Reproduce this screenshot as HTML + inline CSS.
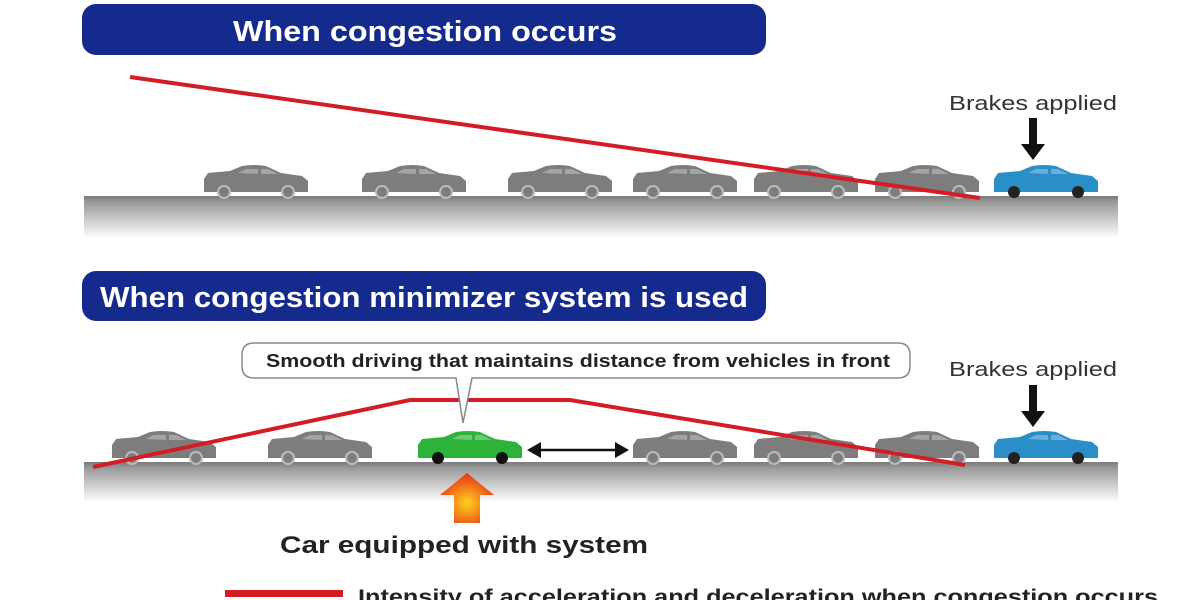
<!DOCTYPE html>
<html><head><meta charset="utf-8"><style>
html,body{margin:0;padding:0;background:#fff;width:1200px;height:600px;overflow:hidden}
svg{display:block}
text{font-family:"Liberation Sans",Arial,sans-serif;font-weight:bold}
</style></head><body>
<svg width="1200" height="600" viewBox="0 0 1200 600" xmlns="http://www.w3.org/2000/svg">
<defs>
<linearGradient id="road" x1="0" y1="0" x2="0" y2="1">
<stop offset="0" stop-color="#7a7a7a"/><stop offset="0.15" stop-color="#9a9a9a"/><stop offset="1" stop-color="#ffffff"/>
</linearGradient>
<radialGradient id="org" cx="0.5" cy="0.6" r="0.6">
<stop offset="0" stop-color="#ffd21a"/><stop offset="1" stop-color="#e8301a"/>
</radialGradient>
<g id="body">
<path d="M2,11 L6,5 L28,3 L40,-2 Q52,-4 64,-2 L79,5 L100,8 L106,13 L106,24 L2,24 Z"/>
</g>
<g id="win"><path d="M36,5 L44,1 L56,1 L56,6 Z M59,1 L66,1 L76,6 L59,6 Z" fill="#fff" opacity="0.3"/></g>
</defs>

<rect x="82" y="4" width="684" height="51" rx="14" fill="#142a8c"/>
<text x="233" y="41" font-size="29" fill="#fff" textLength="384" lengthAdjust="spacingAndGlyphs">When congestion occurs</text>
<rect x="82" y="271" width="684" height="50" rx="14" fill="#142a8c"/>
<text x="100" y="307" font-size="29" fill="#fff" textLength="648" lengthAdjust="spacingAndGlyphs">When congestion minimizer system is used</text>

<rect x="84" y="196" width="1034" height="42" fill="url(#road)"/>
<rect x="84" y="462" width="1034" height="40" fill="url(#road)"/>

<g fill="#7d7d7d">
<g transform="translate(202,168)"><use href="#body"/><use href="#win"/><circle cx="22" cy="24" r="7" fill="#bbb"/><circle cx="22" cy="24" r="5"/><circle cx="86" cy="24" r="7" fill="#bbb"/><circle cx="86" cy="24" r="5"/></g>
<g transform="translate(360,168)"><use href="#body"/><use href="#win"/><circle cx="22" cy="24" r="7" fill="#bbb"/><circle cx="22" cy="24" r="5"/><circle cx="86" cy="24" r="7" fill="#bbb"/><circle cx="86" cy="24" r="5"/></g>
<g transform="translate(506,168)"><use href="#body"/><use href="#win"/><circle cx="22" cy="24" r="7" fill="#bbb"/><circle cx="22" cy="24" r="5"/><circle cx="86" cy="24" r="7" fill="#bbb"/><circle cx="86" cy="24" r="5"/></g>
<g transform="translate(631,168)"><use href="#body"/><use href="#win"/><circle cx="22" cy="24" r="7" fill="#bbb"/><circle cx="22" cy="24" r="5"/><circle cx="86" cy="24" r="7" fill="#bbb"/><circle cx="86" cy="24" r="5"/></g>
<g transform="translate(752,168)"><use href="#body"/><use href="#win"/><circle cx="22" cy="24" r="7" fill="#bbb"/><circle cx="22" cy="24" r="5"/><circle cx="86" cy="24" r="7" fill="#bbb"/><circle cx="86" cy="24" r="5"/></g>
<g transform="translate(873,168)"><use href="#body"/><use href="#win"/><circle cx="22" cy="24" r="7" fill="#bbb"/><circle cx="22" cy="24" r="5"/><circle cx="86" cy="24" r="7" fill="#bbb"/><circle cx="86" cy="24" r="5"/></g>
</g>
<g transform="translate(992,168)" fill="#2a8fc8"><use href="#body"/><use href="#win"/><circle cx="22" cy="24" r="6" fill="#222"/><circle cx="86" cy="24" r="6" fill="#222"/></g>

<g fill="#7d7d7d">
<g transform="translate(110,434)"><use href="#body"/><use href="#win"/><circle cx="22" cy="24" r="7" fill="#bbb"/><circle cx="22" cy="24" r="5"/><circle cx="86" cy="24" r="7" fill="#bbb"/><circle cx="86" cy="24" r="5"/></g>
<g transform="translate(266,434)"><use href="#body"/><use href="#win"/><circle cx="22" cy="24" r="7" fill="#bbb"/><circle cx="22" cy="24" r="5"/><circle cx="86" cy="24" r="7" fill="#bbb"/><circle cx="86" cy="24" r="5"/></g>
<g transform="translate(631,434)"><use href="#body"/><use href="#win"/><circle cx="22" cy="24" r="7" fill="#bbb"/><circle cx="22" cy="24" r="5"/><circle cx="86" cy="24" r="7" fill="#bbb"/><circle cx="86" cy="24" r="5"/></g>
<g transform="translate(752,434)"><use href="#body"/><use href="#win"/><circle cx="22" cy="24" r="7" fill="#bbb"/><circle cx="22" cy="24" r="5"/><circle cx="86" cy="24" r="7" fill="#bbb"/><circle cx="86" cy="24" r="5"/></g>
<g transform="translate(873,434)"><use href="#body"/><use href="#win"/><circle cx="22" cy="24" r="7" fill="#bbb"/><circle cx="22" cy="24" r="5"/><circle cx="86" cy="24" r="7" fill="#bbb"/><circle cx="86" cy="24" r="5"/></g>
</g>
<g transform="translate(416,434)" fill="#2db23a"><use href="#body"/><use href="#win"/><circle cx="22" cy="24" r="6" fill="#111"/><circle cx="86" cy="24" r="6" fill="#111"/></g>
<g transform="translate(992,434)" fill="#2a8fc8"><use href="#body"/><use href="#win"/><circle cx="22" cy="24" r="6" fill="#222"/><circle cx="86" cy="24" r="6" fill="#222"/></g>

<line x1="130" y1="77" x2="980" y2="198" stroke="#d41c24" stroke-width="4"/>
<polyline points="93,467 410,400 570,400 965,465" fill="none" stroke="#d41c24" stroke-width="4"/>

<text x="949" y="110" font-size="20" fill="#333" style="font-weight:normal" textLength="168" lengthAdjust="spacingAndGlyphs">Brakes applied</text>
<rect x="1029" y="118" width="8" height="28" fill="#111"/><polygon points="1021,144 1045,144 1033,160" fill="#111"/>
<text x="949" y="376" font-size="20" fill="#333" style="font-weight:normal" textLength="168" lengthAdjust="spacingAndGlyphs">Brakes applied</text>
<rect x="1029" y="385" width="8" height="28" fill="#111"/><polygon points="1021,411 1045,411 1033,427" fill="#111"/>

<path d="M254,343 H898 Q910,343 910,355 V366 Q910,378 898,378 H472 L463,423 L456,378 H254 Q242,378 242,366 V355 Q242,343 254,343 Z" fill="#fff" stroke="#888" stroke-width="1.5"/>
<text x="266" y="367" font-size="18" fill="#222" textLength="624" lengthAdjust="spacingAndGlyphs">Smooth driving that maintains distance from vehicles in front</text>

<line x1="535" y1="450" x2="620" y2="450" stroke="#111" stroke-width="2.5"/>
<polygon points="527,450 541,442 541,458" fill="#111"/><polygon points="629,450 615,442 615,458" fill="#111"/>

<polygon points="467,473 494,495 480,495 480,523 454,523 454,495 440,495" fill="url(#org)"/>
<text x="280" y="553" font-size="24" fill="#222" textLength="368" lengthAdjust="spacingAndGlyphs">Car equipped with system</text>

<rect x="225" y="590" width="118" height="7" fill="#d41c24"/>
<text x="358" y="604" font-size="21" fill="#222" textLength="800" lengthAdjust="spacingAndGlyphs">Intensity of acceleration and deceleration when congestion occurs</text>
</svg>
</body></html>
